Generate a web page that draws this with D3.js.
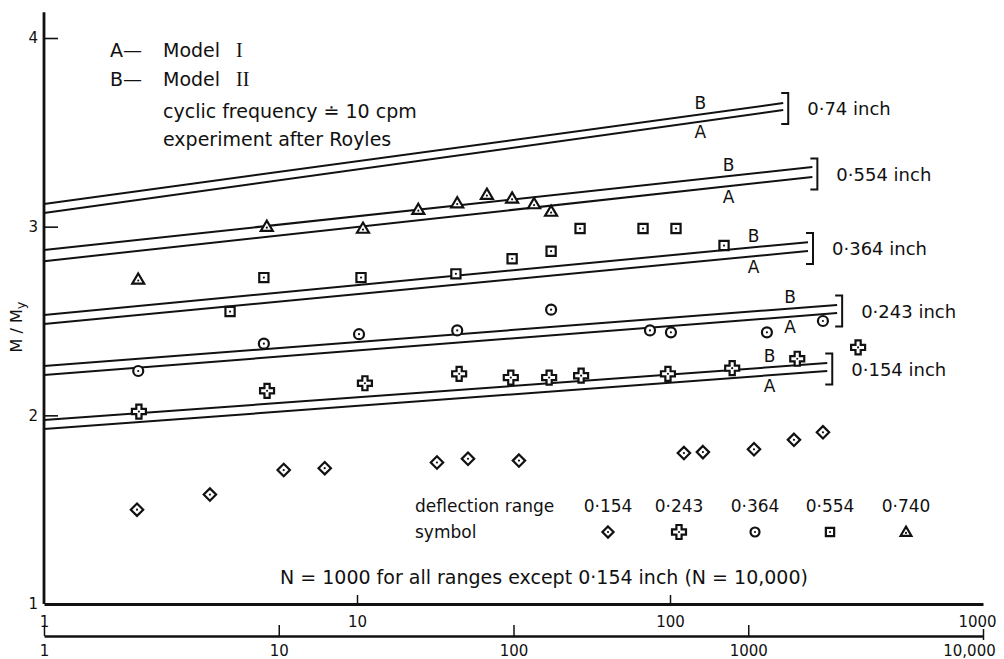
<!DOCTYPE html>
<html><head><meta charset="utf-8">
<script src="https://cdn.jsdelivr.net/npm/d3@7"></script>
<style>
body{margin:0;background:#fff;}
svg{display:block;}
text{font-family:"DejaVu Sans",sans-serif;fill:#111;}
</style>
</head><body>
<svg id="c" width="1004" height="659"></svg>
<script>
// ---------------- data ----------------
const rangeLabels = ["0·74 inch", "0·554 inch", "0·364 inch", "0·243 inch", "0·154 inch"];
const lineEndN   = [230, 285, 276, 342, 318];
const modelAStart = [3.072, 2.817, 2.484, 2.214, 1.927];
const modelAEnd   = [3.618, 3.263, 2.871, 2.542, 2.235];
const modelBStart = [3.120, 2.876, 2.532, 2.261, 1.975];
const modelBEnd   = [3.655, 3.316, 2.918, 2.585, 2.277];
const abLabelN    = [125, 154, 185, 242, 208];

// measured points (N = 1000 cycles series use top axis, 0.154 uses bottom axis)
const triN   = [2.0, 5.15, 10.45, 15.7, 20.9, 26.0, 31.3, 36.8, 41.7];
const triV   = [2.72, 3.00, 2.99, 3.09, 3.125, 3.17, 3.15, 3.12, 3.08];
const sqN    = [3.93, 5.04, 10.3, 20.7, 31.3, 41.7, 51.6, 82, 104.5, 148.8];
const sqV    = [2.55, 2.73, 2.73, 2.75, 2.83, 2.87, 2.99, 2.99, 2.99, 2.90];
const cirN   = [2.0, 5.04, 10.15, 20.9, 41.7, 86.3, 100.7, 204, 308];
const cirV   = [2.235, 2.38, 2.43, 2.45, 2.56, 2.45, 2.44, 2.44, 2.50];
const crossN = [2.01, 5.16, 10.6, 21.2, 31.0, 41.1, 52, 98.5, 158, 255, 399];
const crossV = [2.02, 2.13, 2.17, 2.22, 2.20, 2.20, 2.21, 2.22, 2.25, 2.30, 2.36];
const diaN   = [2.49, 5.09, 10.5, 15.7, 47.2, 64, 105.5, 532, 641, 1058, 1566, 2081];
const diaV   = [1.50, 1.58, 1.71, 1.72, 1.75, 1.77, 1.76, 1.80, 1.805, 1.82, 1.87, 1.91];

const topTicks = [1, 10, 100, 1000];
const topTickLabels = ["1", "10", "100", "1000"];
const bottomTicks = [1, 10, 100, 1000, 10000];
const bottomTickLabels = ["1", "10", "100", "1000", "10,000"];
const yTicks = [1, 2, 3, 4];
const yTickLabels = ["1", "2", "3", "4"];

const legendRanges = ["0·154", "0·243", "0·364", "0·554", "0·740"];
const legendShapes = ["diamond", "cross", "circle", "square", "triangle"];

// ---------------- setup ----------------
const svg = d3.select("#c");
const ink = "#111";
const x  = d3.scaleLog().domain([1, 1000]).range([44, 983]);
const xN = d3.scaleLog().domain([1, 10000]).range([44, 983]);
const y  = d3.scaleLinear().domain([1, 4]).range([604, 38]);

// ---------------- axes ----------------
svg.append("line").attr("x1", 44).attr("x2", 44)
  .attr("y1", y(1)).attr("y2", y(4.137))
  .attr("stroke", ink).attr("stroke-width", 2.8);

const yAxis = d3.axisLeft(y).tickValues(yTicks)
  .tickFormat((d, i) => yTickLabels[i]).tickSizeInner(-14).tickSizeOuter(0).tickPadding(6);
const gy = svg.append("g").attr("transform", "translate(44,0)").call(yAxis);
gy.select(".domain").remove();
gy.selectAll(".tick line").attr("stroke", ink).attr("stroke-width", 1.6)
  .attr("opacity", d => d === 1 ? 0 : 1);
gy.selectAll(".tick text").attr("font-size", 15).attr("font-family", "DejaVu Sans").attr("fill", ink);

const topAxis = d3.axisBottom(x).tickValues(topTicks)
  .tickFormat((d, i) => topTickLabels[i]).tickSizeInner(-9).tickSizeOuter(0).tickPadding(12);
const gt = svg.append("g").attr("transform", `translate(0,${y(1)})`).call(topAxis);
gt.select(".domain").attr("stroke", ink).attr("stroke-width", 2.8);
gt.selectAll(".tick line").attr("stroke", ink).attr("stroke-width", 1.5)
  .attr("opacity", d => (d === 1 || d === 1000) ? 0 : 1);
gt.selectAll(".tick text").attr("font-size", 15).attr("font-family", "DejaVu Sans").attr("fill", ink)
  .attr("dx", d => d === 1000 ? -6 : 0);

const botAxis = d3.axisBottom(xN).tickValues(bottomTicks)
  .tickFormat((d, i) => bottomTickLabels[i]).tickSizeInner(-11).tickSizeOuter(0).tickPadding(9);
const gb = svg.append("g").attr("transform", "translate(0,636)").call(botAxis);
gb.select(".domain").attr("stroke", ink).attr("stroke-width", 2.6);
gb.selectAll(".tick line").attr("stroke", ink).attr("stroke-width", 1.5)
  .attr("y2", d => d === 10000 ? 4 : -11).attr("y1", d => d === 10000 ? -7 : 0);
gb.selectAll(".tick text").attr("font-size", 15).attr("font-family", "DejaVu Sans").attr("fill", ink)
  .attr("dx", d => d === 10000 ? -14 : 0);

// y axis title
svg.append("text").attr("transform", "translate(22,327) rotate(-90)")
  .attr("text-anchor", "middle").attr("font-size", 16)
  .text("M / M").append("tspan").attr("font-size", 13).attr("dy", 3).text("y");

// ---------------- model lines ----------------
const line = d3.line().x(d => x(d[0])).y(d => y(d[1]));
const gLines = svg.append("g");
rangeLabels.forEach((lab, i) => {
  const a = [[1, modelAStart[i]], [lineEndN[i], modelAEnd[i]]];
  const b = [[1, modelBStart[i]], [lineEndN[i], modelBEnd[i]]];
  [a, b].forEach(pts => gLines.append("path").attr("d", line(pts))
    .attr("fill", "none").attr("stroke", ink).attr("stroke-width", 2));
  const ln = abLabelN[i];
  const t = Math.log(ln) / Math.log(lineEndN[i]);
  const vB = modelBStart[i] + (modelBEnd[i] - modelBStart[i]) * t;
  const vA = modelAStart[i] + (modelAEnd[i] - modelAStart[i]) * t;
  gLines.append("text").attr("x", x(ln)).attr("y", y(vB) - 11.5 + 6)
    .attr("text-anchor", "middle").attr("font-size", 17).text("B");
  gLines.append("text").attr("x", x(ln)).attr("y", y(vA) + 10.5 + 6)
    .attr("text-anchor", "middle").attr("font-size", 17).text("A");
  const bx = x(lineEndN[i]) + 5;
  const mid = (y(modelBEnd[i]) + y(modelAEnd[i])) / 2 + 2;
  const top = mid - 15.5, bot = mid + 15.5;
  gLines.append("path").attr("d", `M${bx - 7},${top}H${bx}V${bot}H${bx - 7}`)
    .attr("fill", "none").attr("stroke", ink).attr("stroke-width", 2);
  gLines.append("text").attr("x", bx + 19).attr("y", mid + 6.5)
    .attr("font-size", 18).text(lab);
});

// ---------------- markers ----------------
function shapePath(shape, s) {
  const p = d3.path();
  if (shape === "diamond") {
    const r = 6.2 * s;
    p.moveTo(0, -r); p.lineTo(r, 0); p.lineTo(0, r); p.lineTo(-r, 0); p.closePath();
  } else if (shape === "cross") {
    const a = 2.6 * s, L = 7 * s;
    p.moveTo(-a, -L); p.lineTo(a, -L); p.lineTo(a, -a); p.lineTo(L, -a); p.lineTo(L, a);
    p.lineTo(a, a); p.lineTo(a, L); p.lineTo(-a, L); p.lineTo(-a, a); p.lineTo(-L, a);
    p.lineTo(-L, -a); p.lineTo(-a, -a); p.closePath();
  } else if (shape === "circle") {
    const r = 5 * s; p.moveTo(r, 0); p.arc(0, 0, r, 0, 2 * Math.PI);
  } else if (shape === "square") {
    const h = 4.6 * s; p.rect(-h, -h, 2 * h, 2 * h);
  } else {
    const h = 6 * s; p.moveTo(0, -h); p.lineTo(h, 4.2 * s); p.lineTo(-h, 4.2 * s); p.closePath();
  }
  return p.toString();
}
function drawMarker(g, shape, cx, cy, s) {
  const m = g.append("g").attr("transform", `translate(${cx},${cy})`);
  m.append("path").attr("d", shapePath(shape, s)).attr("fill", "#fff")
    .attr("stroke", ink).attr("stroke-width", 2.2).attr("stroke-linejoin", "miter");
  m.append("circle").attr("cx", 0).attr("cy", shape === "triangle" ? 1 * s : 0)
    .attr("r", 1.1).attr("fill", ink);
}

const series = [
  {shape: "triangle", n: triN, v: triV, sx: x},
  {shape: "square", n: sqN, v: sqV, sx: x},
  {shape: "circle", n: cirN, v: cirV, sx: x},
  {shape: "cross", n: crossN, v: crossV, sx: x},
  {shape: "diamond", n: diaN, v: diaV, sx: xN}
];
const gPts = svg.append("g");
series.forEach(s => s.n.forEach((n, i) => drawMarker(gPts, s.shape, s.sx(n), y(s.v[i]), 1)));

// ---------------- legends ----------------
const gL = svg.append("g");
gL.append("text").attr("x", 110).attr("y", 57).attr("font-size", 19).text("A—");
const t1 = gL.append("text").attr("x", 163).attr("y", 57).attr("font-size", 19);
t1.append("tspan").text("Model");
t1.append("tspan").attr("x", 236).attr("font-family", "Liberation Serif").attr("font-size", 20).text("I");
gL.append("text").attr("x", 110).attr("y", 86).attr("font-size", 19).text("B—");
const t2 = gL.append("text").attr("x", 163).attr("y", 86).attr("font-size", 19);
t2.append("tspan").text("Model");
t2.append("tspan").attr("x", 236).attr("font-family", "Liberation Serif").attr("font-size", 20).text("II");
gL.append("text").attr("x", 163).attr("y", 118).attr("font-size", 19).text("cyclic  frequency ≐ 10 cpm");
gL.append("text").attr("x", 163).attr("y", 146).attr("font-size", 19).text("experiment after  Royles");

const legendX = [608, 679, 755, 830, 906];
gL.append("text").attr("x", 415).attr("y", 512).attr("font-size", 17).text("deflection  range");
gL.append("text").attr("x", 415).attr("y", 538).attr("font-size", 17).text("symbol");
legendRanges.forEach((r, i) => {
  gL.append("text").attr("x", legendX[i]).attr("y", 512).attr("text-anchor", "middle")
    .attr("font-size", 17).text(r);
  drawMarker(gL, legendShapes[i], legendX[i], 532, legendShapes[i] === "cross" ? 1 : 0.9);
});

gL.append("text").attr("x", 544).attr("y", 584).attr("text-anchor", "middle")
  .attr("font-size", 19).text("N = 1000  for all ranges except  0·154 inch (N = 10,000)");
</script>
</body></html>
